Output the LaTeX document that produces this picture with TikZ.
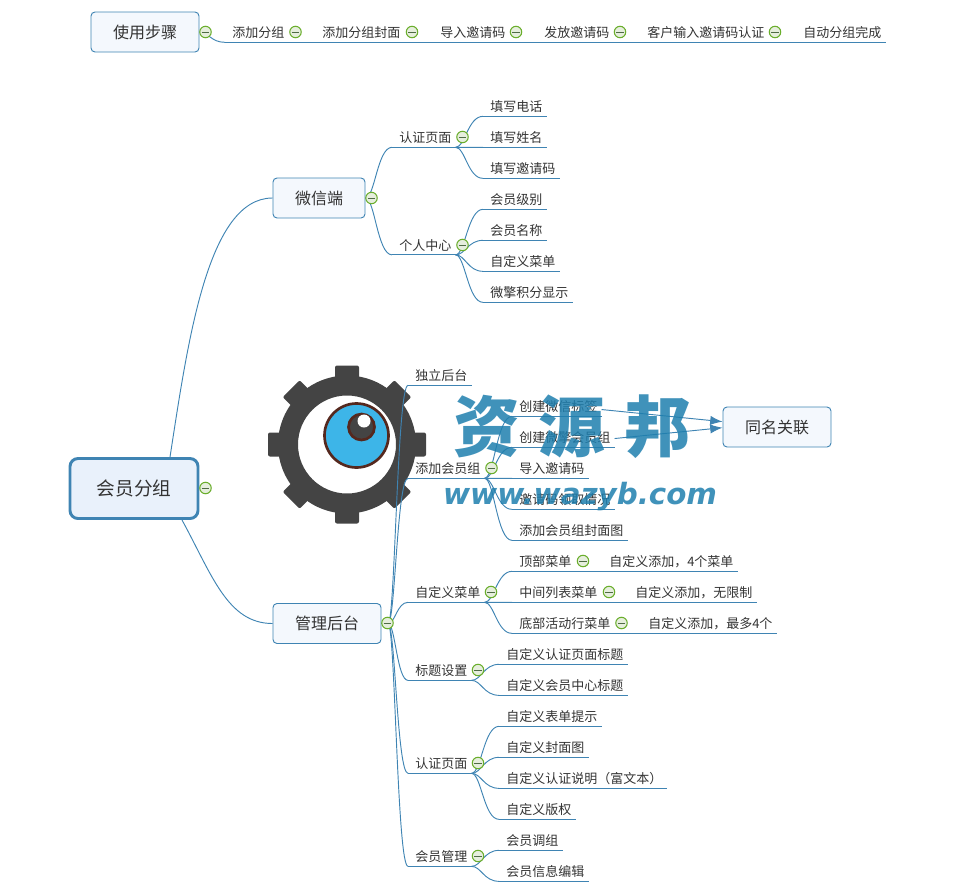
\documentclass[tikz,border=0pt]{standalone}
\usepackage{fontspec}
\setmainfont{Noto Sans CJK SC}
\newfontfamily\wmlatin{DejaVu Sans}
\usetikzlibrary{calc,arrows.meta}
\definecolor{linkc}{HTML}{3F84B3}
\definecolor{textc}{HTML}{333333}
\definecolor{boxc}{HTML}{F4F8FD}
\definecolor{rootc}{HTML}{E9F1FB}
\definecolor{foldc}{HTML}{6AAE2C}
\definecolor{foldf}{HTML}{E6EEDD}
\definecolor{minusc}{HTML}{4F6B45}
\definecolor{gearc}{HTML}{444444}
\definecolor{eyec}{HTML}{3DB5E8}
\definecolor{browc}{HTML}{55281E}
\definecolor{wmc}{HTML}{1F7FAE}
\tikzset{
	link/.style={draw=linkc, line width=0.7pt},
	leaf/.style={anchor=south west, yshift=0.5pt, inner xsep=3pt, inner ysep=1.4pt, text height=8pt, text depth=2pt, text=textc,
		font=\fontsize{9.75pt}{12pt}\selectfont, execute at begin node={\hspace*{2.25pt}}},
	topic/.style={draw=linkc, line width=0.7pt, fill=boxc, rounded corners=3pt, text=textc, font=\fontsize{12pt}{14pt}\selectfont},
	root/.style={draw=linkc, line width=2.2pt, fill=rootc, rounded corners=6pt, text=textc, font=\fontsize{14pt}{16pt}\selectfont},
	fold/.style={circle, draw=foldc, line width=0.8pt, fill=foldf, inner sep=0pt, minimum size=8.6pt,
		path picture={\draw[minusc, line width=0.7pt] ([xshift=1.5pt]path picture bounding box.west) -- ([xshift=-1.5pt]path picture bounding box.east);}},
	wm/.style={text=wmc, opacity=.85, inner sep=0pt}
}
\newcommand{\branch}[2]{\draw[link] (#1) .. controls ($(#1)!.35!(#2 |- #1)$) and ($(#2)!.55!(#1 |- #2)$) .. (#2);}
\begin{document}
\begin{tikzpicture}[x=0.75pt, y=-0.75pt]
	\useasboundingbox (0,0) rectangle (980,889);

	% logo
	\fill[gearc, even odd rule] (347,444.5) circle[radius=69] (347,444.5) circle[radius=49];
	\foreach \a in {0,45,...,315}
		\fill[gearc, rounded corners=1.5pt, rotate around={\a:(347,444.5)}] (335,365.5) rectangle (359,386);
	\fill[eyec, draw=browc, line width=2pt] (356.5,435.5) circle[radius=32];
	\fill[gearc, draw=browc, line width=2pt] (361.5,427) circle[radius=13];
	\fill[white] (364,421) circle[radius=6.5];

	% boxes
	\node[topic, minimum width=81pt, minimum height=30pt] (steps) at (145,32) {使用步骤};
	\node[root, minimum width=96pt, minimum height=45pt] (group) at (134,488.5) {会员分组};
	\node[topic, minimum width=69pt, minimum height=30pt] (wechat) at (319,198) {微信端};
	\node[topic, minimum width=81pt, minimum height=30pt] (admin) at (327,623.5) {管理后台};
	\node[topic, minimum width=81pt, minimum height=30pt] (same) at (777,427) {同名关联};
	\coordinate (adminout) at ([xshift=5pt]admin.east);

	% leaves
	\foreach \nm/\x/\y/\tx in {
		s1/225/43/添加分组, s2/315/43/添加分组封面, s3/433/43/导入邀请码, s4/537/43/发放邀请码, s5/640/43/客户输入邀请码认证, s6/796/43/自动分组完成,
		wa/392/148/认证页面, wb/392/255.5/个人中心,
		wa1/483/117/填写电话, wa2/483/148/填写姓名, wa3/483/179/填写邀请码,
		wb1/483/210/会员级别, wb2/483/241/会员名称, wb3/483/272/自定义菜单, wb4/483/303/微擎积分显示,
		ma/408/386/独立后台, mb/408/479/添加会员组, mc/408/603/自定义菜单, md/408/681/标题设置, me/408/774/认证页面, mf/408/867/会员管理,
		mb1/512/417/创建微信标签, mb2/512/448/创建微擎会员组, mb3/512/479/导入邀请码, mb4/512/510/邀请码领取情况, mb5/512/541/添加会员组封面图,
		mc1/512/572/顶部菜单, mc2/512/603/中间列表菜单, mc3/512/634/底部活动行菜单,
		mc4/602/572/{自定义添加，4个菜单}, mc5/628/603/{自定义添加，无限制}, mc6/641/634/{自定义添加，最多4个},
		md1/499/665/自定义认证页面标题, md2/499/696/自定义会员中心标题,
		me1/499/727/自定义表单提示, me2/499/758/自定义封面图, me3/499/789/自定义认证说明（富文本）, me4/499/820/自定义版权,
		mf1/499/851/会员调组, mf2/499/882/会员信息编辑
	}{
		\node[leaf] (\nm) at (\x,\y) {\tx};
		\draw[link] (\nm.south west) -- (\nm.south east);
	}

	% connectors
	\branch{steps.east}{s1.south west}
	\foreach \a/\b in {s1/s2, s2/s3, s3/s4, s4/s5, s5/s6, mc1/mc4, mc2/mc5, mc3/mc6}
		\draw[link] (\a.south east) -- (\b.south west);
	\draw[link] ([xshift=27pt]group.north) .. controls +(18,-116) and +(-65,0) .. (wechat.west);
	\draw[link] ([xshift=36pt]group.south) .. controls +(30,55) and +(-45,0) .. (admin.west);
	\foreach \b in {wa, wb} {\branch{wechat.east}{\b.south west}}
	\foreach \b in {wa1, wa2, wa3} {\branch{wa.south east}{\b.south west}}
	\foreach \b in {wb1, wb2, wb3, wb4} {\branch{wb.south east}{\b.south west}}
	\draw[link] (admin.east) -- (adminout);
	\foreach \b in {ma, mb, mc, md, me, mf} {\branch{adminout}{\b.south west}}
	\foreach \b in {mb1, mb2, mb3, mb4, mb5} {\branch{mb.south east}{\b.south west}}
	\foreach \b in {mc1, mc2, mc3} {\branch{mc.south east}{\b.south west}}
	\foreach \b in {md1, md2} {\branch{md.south east}{\b.south west}}
	\foreach \b in {me1, me2, me3, me4} {\branch{me.south east}{\b.south west}}
	\foreach \b in {mf1, mf2} {\branch{mf.south east}{\b.south west}}
	\draw[link, -{Latex[scale=1.5]}] ([yshift=-1.5pt]mb1.east) -- ([yshift=4pt]same.west);
	\draw[link, -{Latex[scale=1.5]}] (mb2.east) -- ([yshift=-0.5pt]same.west);

	% folds
	\foreach \nm/\x/\y in {f0/205.5/32, f1/295.5/32, f2/412/32, f3/516/32, f4/620/32, f5/775/32,
		fg/205.5/488, fw/371.5/198, fa/462.5/137, fb/462.5/245, fm/387.5/623,
		fmb/491.5/468, fmc/491/592, fmd/478/670, fme/478/763, fmf/478/856,
		fc1/583/561, fc2/609/592, fc3/621.5/623}
		\node[fold] (\nm) at (\x,\y) {};

	% watermark
	\node[wm, font=\fontsize{50pt}{54pt}\selectfont\bfseries] (wm1) at (572,427) {资\hspace{14pt}源\hspace{14pt}邦};
	\node[wm, font=\wmlatin\fontsize{22pt}{26pt}\selectfont\bfseries\itshape] (wm2) at (580,497) {www.wazyb.com};
\end{tikzpicture}
\end{document}
